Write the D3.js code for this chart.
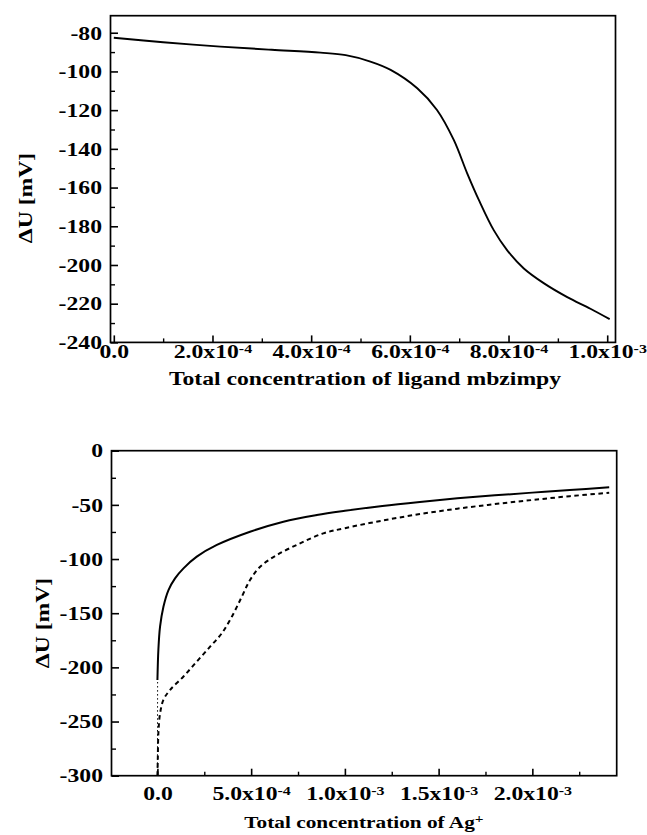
<!DOCTYPE html>
<html>
<head>
<meta charset="utf-8">
<script src="https://cdn.jsdelivr.net/npm/d3@7"></script>
<style>
  html, body { margin: 0; padding: 0; background: #fff; }
  svg text { font-family: "Liberation Serif", "Times New Roman", serif; font-weight: bold; fill: #000; }
</style>
</head>
<body>
<svg id="chart" width="647" height="835"></svg>
<script>
// ---- top panel: titration with ligand mbzimpy ----
const ligandConc = [0, 0.10e-3, 0.216e-3, 0.32e-3, 0.419e-3, 0.47e-3, 0.52e-3, 0.561e-3, 0.615e-3,
  0.655e-3, 0.689e-3, 0.716e-3, 0.74e-3, 0.77e-3, 0.797e-3, 0.831e-3, 0.872e-3,
  0.919e-3, 0.966e-3, 1.005e-3];
const ligandDU = [-82.6, -84.9, -87.2, -88.8, -90.3, -91.6, -94.9, -99.2, -108.7,
  -119.9, -135.4, -152.5, -166.5, -182, -192.3, -201.8, -209.5,
  -216.6, -222.6, -228];
const topYTicks = [-240, -220, -200, -180, -160, -140, -120, -100, -80];
const topXTicks = [0, 2e-4, 4e-4, 6e-4, 8e-4, 1e-3];

// ---- bottom panel: titration with Ag+ ----
const agSolidConc = [0, 0.005e-3, 0.014e-3, 0.032e-3, 0.059e-3, 0.094e-3, 0.139e-3, 0.21e-3,
  0.317e-3, 0.494e-3, 0.672e-3, 0.85e-3, 1.0e-3, 1.2e-3, 1.4e-3, 1.6e-3, 1.8e-3, 2.0e-3,
  2.2e-3, 2.41e-3];
const agSolidDU = [-211.7, -184, -162.5, -144, -128.6, -117.8, -108.6, -97.8,
  -87, -74.8, -65.5, -59.4, -55.5, -51, -47.3, -44, -41.2, -38.7,
  -36.3, -33.8];
const agTailConc = [0, 0.0005e-3, 0.001e-3];
const agTailDU = [-300, -255, -211.7];
const agDashConc = [0, 0.002e-3, 0.005e-3, 0.014e-3, 0.032e-3, 0.068e-3, 0.139e-3, 0.21e-3,
  0.281e-3, 0.343e-3, 0.397e-3, 0.45e-3, 0.494e-3, 0.548e-3, 0.637e-3, 0.761e-3, 0.885e-3,
  1.0e-3, 1.2e-3, 1.4e-3, 1.6e-3, 1.8e-3, 2.0e-3, 2.2e-3, 2.41e-3];
const agDashDU = [-300, -285, -261, -242.7, -230, -220.7, -208.4, -194.6,
  -180.9, -168.6, -153.2, -134.8, -119.4, -107.1, -96.3, -85.5, -76.3,
  -71.5, -64.5, -58.5, -53.5, -49.3, -45.5, -42, -38.8];
const botYTicks = [-300, -250, -200, -150, -100, -50, 0];
const botXTicks = [0, 5e-4, 1e-3, 1.5e-3, 2e-3];

const SX = 1.28;   // the scanned lettering is wide, stretch glyphs horizontally
const FS = 18.5;

const svg = d3.select('#chart');

function sciParts(v) {
  if (v === 0) { return ['0.0', null]; }
  const e = Math.floor(Math.log10(Math.abs(v)) + 1e-9);
  const m = v / Math.pow(10, e);
  return [m.toFixed(1) + 'x10', String(e)];
}

function writeSci(textSel, v) {
  const [main, exp] = sciParts(v);
  textSel.text(null);
  textSel.append('tspan').text(main);
  if (exp !== null) {
    textSel.append('tspan').attr('dy', -5).attr('font-size', 12.5).text(exp);
  }
}

function panel(cfg) {
  const g = svg.append('g');
  const x = d3.scaleLinear().domain(cfg.xDomain).range([cfg.left, cfg.right]);
  const y = d3.scaleLinear().domain(cfg.yDomain).range([cfg.bottom, cfg.top]);

  // frame
  g.append('rect')
    .attr('x', cfg.left).attr('y', cfg.top)
    .attr('width', cfg.right - cfg.left).attr('height', cfg.bottom - cfg.top)
    .attr('fill', 'none').attr('stroke', '#000').attr('stroke-width', 1.7);

  // minor ticks
  g.append('g')
    .attr('transform', `translate(${cfg.left},0)`)
    .call(d3.axisLeft(y).tickValues(cfg.yMinor).tickSize(-4.5).tickFormat(''))
    .call(s => s.select('.domain').remove())
    .selectAll('line').attr('stroke-width', 1.4);
  g.append('g')
    .attr('transform', `translate(0,${cfg.bottom})`)
    .call(d3.axisBottom(x).tickValues(cfg.xMinor).tickSize(-4).tickFormat(''))
    .call(s => s.select('.domain').remove())
    .selectAll('line').attr('stroke-width', 1.4);

  // major y axis
  const ya = g.append('g')
    .attr('transform', `translate(${cfg.left},0)`)
    .call(d3.axisLeft(y).tickValues(cfg.yTicks).tickSize(-7.5).tickPadding(0).tickFormat(d3.format('d')));
  ya.select('.domain').remove();
  ya.selectAll('line').attr('stroke-width', 1.6);
  ya.selectAll('text')
    .attr('font-size', FS)
    .attr('font-family', null)
    .attr('x', -cfg.yPad / SX)
    .attr('dy', '0.34em')
    .attr('transform', `scale(${SX},1)`)
    .text(d => String(d).replace('\u2212', '-'));

  // major x axis
  const xa = g.append('g')
    .attr('transform', `translate(0,${cfg.bottom})`)
    .call(d3.axisBottom(x).tickValues(cfg.xTicks).tickSize(-7));
  xa.select('.domain').remove();
  xa.selectAll('line').attr('stroke-width', 1.6);
  xa.selectAll('text')
    .attr('font-size', FS)
    .attr('font-family', null)
    .attr('y', cfg.xLabelBase)
    .attr('dy', 0)
    .attr('transform', `scale(${SX},1)`)
    .each(function (d) { writeSci(d3.select(this), d); });

  // axis titles
  const tfs = FS * cfg.xTitleScale;
  const xt = g.append('text')
    .attr('transform', `translate(${cfg.xTitleX},${cfg.xTitleY}) scale(${SX},1)`)
    .attr('font-size', tfs)
    .attr('text-anchor', 'middle');
  xt.append('tspan').text(cfg.xTitle);
  if (cfg.xTitleSup) {
    xt.append('tspan').attr('dy', -5).attr('font-size', 12).text(cfg.xTitleSup);
  }

  g.append('text')
    .attr('transform', `translate(${cfg.yTitleX},${cfg.yTitleY}) rotate(-90) scale(${SX},1)`)
    .attr('font-size', FS)
    .attr('text-anchor', 'middle')
    .text('\u0394U [mV]');

  const line = d3.line().x(d => x(d[0])).y(d => y(d[1])).curve(d3.curveCatmullRom.alpha(0.5));
  cfg.series.forEach(s => {
    g.append('path')
      .datum(d3.zip(s.xs, s.ys))
      .attr('d', line)
      .attr('fill', 'none')
      .attr('stroke', '#000')
      .attr('stroke-width', s.width)
      .attr('stroke-dasharray', s.dash || null)
      .attr('stroke-linejoin', 'round');
  });
}

panel({
  left: 110.5, right: 615.5, top: 15.7, bottom: 342.4,
  xDomain: [-0.0067e-3, 1.0168e-3], yDomain: [-240, -71.2],
  yTicks: topYTicks, yMinor: d3.range(-230, -70, 20),
  xTicks: topXTicks, xMinor: [1e-4, 3e-4, 5e-4, 7e-4, 9e-4],
  yPad: 8.5, xLabelBase: 16,
  xTitle: 'Total concentration of ligand mbzimpy', xTitleScale: 1, xTitleX: 365, xTitleY: 385,
  yTitleX: 32, yTitleY: 198,
  series: [{xs: ligandConc, ys: ligandDU, width: 1.9}]
});

panel({
  left: 111.5, right: 616.7, top: 450.7, bottom: 775.7,
  xDomain: [-0.245e-3, 2.45e-3], yDomain: [-300, 0],
  yTicks: botYTicks, yMinor: [-275, -225, -175, -125, -75, -25],
  xTicks: botXTicks, xMinor: [2.5e-4, 7.5e-4, 1.25e-3, 1.75e-3, 2.25e-3],
  yPad: 8.5, xLabelBase: 24.5,
  xTitle: 'Total concentration of Ag', xTitleSup: '+', xTitleScale: 0.9, xTitleX: 364, xTitleY: 828,
  yTitleX: 49, yTitleY: 623,
  series: [
    {xs: agSolidConc, ys: agSolidDU, width: 2},
    {xs: agTailConc, ys: agTailDU, width: 1, dash: '1.5,2.5'},
    {xs: agDashConc, ys: agDashDU, width: 2, dash: '4.5,3.5'}
  ]
});
</script>
</body>
</html>
